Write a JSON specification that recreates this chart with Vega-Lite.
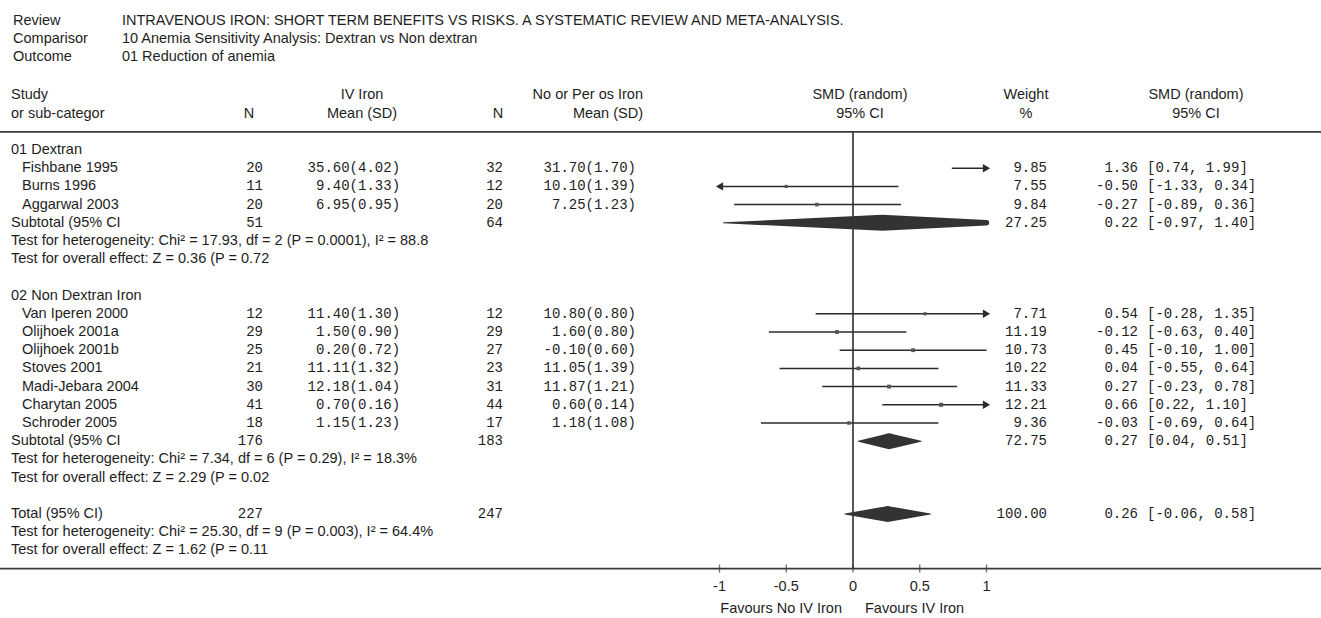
{
  "$schema": "https://vega.github.io/schema/vega-lite/v6.json",
  "width": 1321,
  "height": 618,
  "autosize": {"type": "none"},
  "padding": 0,
  "background": "#ffffff",
  "config": {
    "view": {"stroke": null},
    "locale": {"number": {"decimal": ".", "thousands": ",", "grouping": [3], "currency": ["$", ""], "minus": "-"}},
    "text": {"font": "Liberation Sans", "fontSize": 14.5, "color": "#1e1e1e", "baseline": "middle"}
  },
  "resolve": {"scale": {"size": "independent"}},
  "datasets": {
    "meta": [
      {"row": "t1", "label": "Review", "value": "INTRAVENOUS IRON: SHORT TERM BENEFITS VS RISKS. A SYSTEMATIC REVIEW AND META-ANALYSIS."},
      {"row": "t2", "label": "Comparisor", "value": "10 Anemia Sensitivity Analysis: Dextran vs Non dextran"},
      {"row": "t3", "label": "Outcome", "value": "01 Reduction of anemia"}
    ],
    "heads": [
      {"row": "h1", "study": "Study", "iv": "IV Iron", "ctl": "No or Per os Iron", "plot": "SMD (random)", "w": "Weight", "ci": "SMD (random)"},
      {"row": "h2", "study": "or sub-categor", "n1": "N", "iv": "Mean (SD)", "n2": "N", "ctl": "Mean (SD)", "plot": "95% CI", "w": "%", "ci": "95% CI"}
    ],
    "rows": [
      {"row": "01 Dextran", "kind": "group", "label": "01 Dextran"},
      {"row": "Fishbane 1995", "kind": "study", "label": "Fishbane 1995", "n1": 20, "m1": 35.60, "sd1": 4.02, "n2": 32, "m2": 31.70, "sd2": 1.70, "w": 9.85, "smd": 1.36, "lo": 0.74, "hi": 1.99},
      {"row": "Burns 1996", "kind": "study", "label": "Burns 1996", "n1": 11, "m1": 9.40, "sd1": 1.33, "n2": 12, "m2": 10.10, "sd2": 1.39, "w": 7.55, "smd": -0.50, "lo": -1.33, "hi": 0.34},
      {"row": "Aggarwal 2003", "kind": "study", "label": "Aggarwal 2003", "n1": 20, "m1": 6.95, "sd1": 0.95, "n2": 20, "m2": 7.25, "sd2": 1.23, "w": 9.84, "smd": -0.27, "lo": -0.89, "hi": 0.36},
      {"row": "sub1", "kind": "pooled", "label": "Subtotal (95% CI", "n1": 51, "n2": 64, "w": 27.25, "smd": 0.22, "lo": -0.97, "hi": 1.40},
      {"row": "het1", "kind": "note", "label": "Test for heterogeneity: Chi² = 17.93, df = 2 (P = 0.0001), I² = 88.8"},
      {"row": "eff1", "kind": "note", "label": "Test for overall effect: Z = 0.36 (P = 0.72"},
      {"row": "02 Non Dextran Iron", "kind": "group", "label": "02 Non Dextran Iron"},
      {"row": "Van Iperen 2000", "kind": "study", "label": "Van Iperen 2000", "n1": 12, "m1": 11.40, "sd1": 1.30, "n2": 12, "m2": 10.80, "sd2": 0.80, "w": 7.71, "smd": 0.54, "lo": -0.28, "hi": 1.35},
      {"row": "Olijhoek 2001a", "kind": "study", "label": "Olijhoek 2001a", "n1": 29, "m1": 1.50, "sd1": 0.90, "n2": 29, "m2": 1.60, "sd2": 0.80, "w": 11.19, "smd": -0.12, "lo": -0.63, "hi": 0.40},
      {"row": "Olijhoek 2001b", "kind": "study", "label": "Olijhoek 2001b", "n1": 25, "m1": 0.20, "sd1": 0.72, "n2": 27, "m2": -0.10, "sd2": 0.60, "w": 10.73, "smd": 0.45, "lo": -0.10, "hi": 1.00},
      {"row": "Stoves 2001", "kind": "study", "label": "Stoves 2001", "n1": 21, "m1": 11.11, "sd1": 1.32, "n2": 23, "m2": 11.05, "sd2": 1.39, "w": 10.22, "smd": 0.04, "lo": -0.55, "hi": 0.64},
      {"row": "Madi-Jebara 2004", "kind": "study", "label": "Madi-Jebara 2004", "n1": 30, "m1": 12.18, "sd1": 1.04, "n2": 31, "m2": 11.87, "sd2": 1.21, "w": 11.33, "smd": 0.27, "lo": -0.23, "hi": 0.78},
      {"row": "Charytan 2005", "kind": "study", "label": "Charytan 2005", "n1": 41, "m1": 0.70, "sd1": 0.16, "n2": 44, "m2": 0.60, "sd2": 0.14, "w": 12.21, "smd": 0.66, "lo": 0.22, "hi": 1.10},
      {"row": "Schroder 2005", "kind": "study", "label": "Schroder 2005", "n1": 18, "m1": 1.15, "sd1": 1.23, "n2": 17, "m2": 1.18, "sd2": 1.08, "w": 9.36, "smd": -0.03, "lo": -0.69, "hi": 0.64},
      {"row": "sub2", "kind": "pooled", "label": "Subtotal (95% CI", "n1": 176, "n2": 183, "w": 72.75, "smd": 0.27, "lo": 0.04, "hi": 0.51},
      {"row": "het2", "kind": "note", "label": "Test for heterogeneity: Chi² = 7.34, df = 6 (P = 0.29), I² = 18.3%"},
      {"row": "eff2", "kind": "note", "label": "Test for overall effect: Z = 2.29 (P = 0.02"},
      {"row": "total", "kind": "pooled", "label": "Total (95% CI)", "n1": 227, "n2": 247, "w": 100.00, "smd": 0.26, "lo": -0.06, "hi": 0.58},
      {"row": "het3", "kind": "note", "label": "Test for heterogeneity: Chi² = 25.30, df = 9 (P = 0.003), I² = 64.4%"},
      {"row": "eff3", "kind": "note", "label": "Test for overall effect: Z = 1.62 (P = 0.11"}
    ],
    "scaleTicks": [
      {"t": -1}, {"t": -0.5}, {"t": 0}, {"t": 0.5}, {"t": 1}
    ],
    "captions": [
      {"row": "fav", "left": "Favours No IV Iron", "right": "Favours IV Iron"}
    ]
  },
  "encoding": {
    "y": {
      "field": "row",
      "type": "nominal",
      "axis": null,
      "scale": {
        "type": "point",
        "padding": 0,
        "range": [22.6, 605],
        "domain": ["t1", "t2", "t3", "gapA", "h1", "h2", "hline",
          "01 Dextran", "Fishbane 1995", "Burns 1996", "Aggarwal 2003", "sub1", "het1", "eff1", "gapB",
          "02 Non Dextran Iron", "Van Iperen 2000", "Olijhoek 2001a", "Olijhoek 2001b", "Stoves 2001", "Madi-Jebara 2004", "Charytan 2005", "Schroder 2005", "sub2", "het2", "eff2", "gapC",
          "total", "het3", "eff3", "axis", "ticks", "fav"]
      }
    }
  },
  "layer": [
    {
      "data": {"values": [{"row": "hline"}, {"row": "axis"}]},
      "mark": {"type": "rule", "color": "#3a3a3a", "strokeWidth": 1.8},
      "encoding": {"y": {"field": "row", "type": "nominal"}}
    },
    {
      "data": {"name": "rows"},
      "transform": [
        {"filter": "datum.kind == 'study'"},
        {"calculate": "max(datum.lo, -1)", "as": "lo_c"},
        {"calculate": "min(datum.hi, 1)", "as": "hi_c"}
      ],
      "mark": {"type": "rule", "color": "#2b2b2b", "strokeWidth": 1.5},
      "encoding": {
        "x": {"field": "lo_c", "type": "quantitative", "scale": {"domain": [-6.3895, 3.5056], "nice": false, "zero": false}, "axis": null},
        "x2": {"field": "hi_c"}
      }
    },
    {
      "data": {"values": [{}]},
      "mark": {"type": "rule", "color": "#2e2e2e", "strokeWidth": 1.6},
      "encoding": {
        "x": {"datum": 0, "type": "quantitative", "axis": null},
        "y": {"datum": "hline"},
        "y2": {"datum": "axis"}
      }
    },
    {
      "data": {"name": "scaleTicks"},
      "mark": {"type": "tick", "orient": "vertical", "color": "#3a3a3a", "size": 8, "thickness": 1.4},
      "encoding": {
        "x": {"field": "t", "type": "quantitative", "axis": null},
        "y": {"datum": "axis"}
      }
    },
    {
      "data": {"name": "scaleTicks"},
      "mark": {"type": "text", "align": "center"},
      "encoding": {
        "x": {"field": "t", "type": "quantitative", "axis": null},
        "y": {"datum": "ticks"},
        "text": {"field": "t", "type": "quantitative", "format": "~g"}
      }
    },
    {
      "data": {"name": "rows"},
      "transform": [{"filter": "datum.kind == 'study' && datum.hi > 1"}],
      "mark": {"type": "point", "shape": "triangle-right", "filled": true, "color": "#2b2b2b", "size": 70, "opacity": 1},
      "encoding": {"x": {"datum": 1, "type": "quantitative", "axis": null}}
    },
    {
      "data": {"name": "rows"},
      "transform": [{"filter": "datum.kind == 'study' && datum.lo < -1"}],
      "mark": {"type": "point", "shape": "triangle-left", "filled": true, "color": "#2b2b2b", "size": 70, "opacity": 1},
      "encoding": {"x": {"datum": -1, "type": "quantitative", "axis": null}}
    },
    {
      "data": {"name": "rows"},
      "transform": [{"filter": "datum.kind == 'study' && datum.smd >= -1 && datum.smd <= 1"}],
      "mark": {"type": "point", "shape": "square", "filled": true, "color": "#555555", "opacity": 1},
      "encoding": {
        "x": {"field": "smd", "type": "quantitative", "axis": null},
        "size": {"field": "w", "type": "quantitative", "scale": {"domain": [0, 15], "range": [0, 20]}, "legend": null}
      }
    },
    {
      "data": {"name": "rows"},
      "transform": [
        {"filter": "datum.kind == 'pooled'"},
        {"fold": ["lo", "smd", "hi"], "as": ["pt", "v"]},
        {"calculate": "datum.pt == 'hi' ? min(datum.v, 1) : datum.pt == 'lo' ? max(datum.v, -1) : datum.v", "as": "xv"},
        {"calculate": "datum.pt == 'smd' ? 1 : datum.pt == 'hi' ? (datum.hi > 1 ? (datum.hi - 1) / (datum.hi - datum.smd) : 0) : (datum.lo < -1 ? (-1 - datum.lo) / (datum.smd - datum.lo) : 0)", "as": "half"}
      ],
      "mark": {"type": "trail", "color": "#333333"},
      "encoding": {
        "x": {"field": "xv", "type": "quantitative", "axis": null},
        "detail": {"field": "row"},
        "order": {"field": "xv", "type": "quantitative"},
        "size": {"field": "half", "type": "quantitative", "scale": {"domain": [0, 1], "range": [0, 16]}, "legend": null}
      }
    },
    {
      "data": {"name": "meta"},
      "mark": {"type": "text", "align": "left", "dy": -2},
      "encoding": {"x": {"datum": -6.292, "type": "quantitative", "axis": null}, "text": {"field": "label"}}
    },
    {
      "data": {"name": "meta"},
      "mark": {"type": "text", "align": "left", "dy": -2},
      "encoding": {"x": {"datum": -5.476, "type": "quantitative", "axis": null}, "text": {"field": "value"}}
    },
    {
      "data": {"name": "heads"},
      "mark": {"type": "text", "align": "left"},
      "encoding": {"x": {"datum": -6.307, "type": "quantitative", "axis": null}, "text": {"field": "study"}}
    },
    {
      "data": {"name": "heads"},
      "transform": [{"filter": "isValid(datum.n1)"}],
      "mark": {"type": "text", "align": "center"},
      "encoding": {"x": {"datum": -4.524, "type": "quantitative", "axis": null}, "text": {"field": "n1"}}
    },
    {
      "data": {"name": "heads"},
      "mark": {"type": "text", "align": "center"},
      "encoding": {"x": {"datum": -3.678, "type": "quantitative", "axis": null}, "text": {"field": "iv"}}
    },
    {
      "data": {"name": "heads"},
      "transform": [{"filter": "isValid(datum.n2)"}],
      "mark": {"type": "text", "align": "center"},
      "encoding": {"x": {"datum": -2.659, "type": "quantitative", "axis": null}, "text": {"field": "n2"}}
    },
    {
      "data": {"name": "heads"},
      "mark": {"type": "text", "align": "right"},
      "encoding": {"x": {"datum": -1.573, "type": "quantitative", "axis": null}, "text": {"field": "ctl"}}
    },
    {
      "data": {"name": "heads"},
      "mark": {"type": "text", "align": "center"},
      "encoding": {"x": {"datum": 0.052, "type": "quantitative", "axis": null}, "text": {"field": "plot"}}
    },
    {
      "data": {"name": "heads"},
      "mark": {"type": "text", "align": "center"},
      "encoding": {"x": {"datum": 1.296, "type": "quantitative", "axis": null}, "text": {"field": "w"}}
    },
    {
      "data": {"name": "heads"},
      "mark": {"type": "text", "align": "center"},
      "encoding": {"x": {"datum": 2.569, "type": "quantitative", "axis": null}, "text": {"field": "ci"}}
    },
    {
      "data": {"name": "rows"},
      "transform": [{"filter": "datum.kind != 'study'"}],
      "mark": {"type": "text", "align": "left"},
      "encoding": {"x": {"datum": -6.307, "type": "quantitative", "axis": null}, "text": {"field": "label"}}
    },
    {
      "data": {"name": "rows"},
      "transform": [{"filter": "datum.kind == 'study'"}],
      "mark": {"type": "text", "align": "left"},
      "encoding": {"x": {"datum": -6.225, "type": "quantitative", "axis": null}, "text": {"field": "label"}}
    },
    {
      "data": {"name": "rows"},
      "transform": [{"filter": "isValid(datum.n1)"}],
      "mark": {"type": "text", "align": "right", "font": "Liberation Mono", "fontSize": 14},
      "encoding": {"x": {"datum": -4.4195, "type": "quantitative", "axis": null}, "text": {"field": "n1", "type": "quantitative", "format": "d"}}
    },
    {
      "data": {"name": "rows"},
      "transform": [
        {"filter": "isValid(datum.m1)"},
        {"calculate": "format(datum.m1, '.2f') + '(' + format(datum.sd1, '.2f') + ')'", "as": "t_m1"}
      ],
      "mark": {"type": "text", "align": "right", "font": "Liberation Mono", "fontSize": 14},
      "encoding": {"x": {"datum": -3.393, "type": "quantitative", "axis": null}, "text": {"field": "t_m1"}}
    },
    {
      "data": {"name": "rows"},
      "transform": [{"filter": "isValid(datum.n2)"}],
      "mark": {"type": "text", "align": "right", "font": "Liberation Mono", "fontSize": 14},
      "encoding": {"x": {"datum": -2.622, "type": "quantitative", "axis": null}, "text": {"field": "n2", "type": "quantitative", "format": "d"}}
    },
    {
      "data": {"name": "rows"},
      "transform": [
        {"filter": "isValid(datum.m2)"},
        {"calculate": "format(datum.m2, '.2f') + '(' + format(datum.sd2, '.2f') + ')'", "as": "t_m2"}
      ],
      "mark": {"type": "text", "align": "right", "font": "Liberation Mono", "fontSize": 14},
      "encoding": {"x": {"datum": -1.6255, "type": "quantitative", "axis": null}, "text": {"field": "t_m2"}}
    },
    {
      "data": {"name": "rows"},
      "transform": [
        {"filter": "isValid(datum.w)"},
        {"calculate": "format(datum.w, '.2f')", "as": "t_w"}
      ],
      "mark": {"type": "text", "align": "right", "font": "Liberation Mono", "fontSize": 14},
      "encoding": {"x": {"datum": 1.4532, "type": "quantitative", "axis": null}, "text": {"field": "t_w"}}
    },
    {
      "data": {"name": "rows"},
      "transform": [
        {"filter": "isValid(datum.smd)"},
        {"calculate": "format(datum.smd, '.2f')", "as": "t_est"}
      ],
      "mark": {"type": "text", "align": "right", "font": "Liberation Mono", "fontSize": 14},
      "encoding": {"x": {"datum": 2.1348, "type": "quantitative", "axis": null}, "text": {"field": "t_est"}}
    },
    {
      "data": {"name": "rows"},
      "transform": [
        {"filter": "isValid(datum.smd)"},
        {"calculate": "'[' + format(datum.lo, '.2f') + ', ' + format(datum.hi, '.2f') + ']'", "as": "t_ci"}
      ],
      "mark": {"type": "text", "align": "left", "font": "Liberation Mono", "fontSize": 14},
      "encoding": {"x": {"datum": 2.2022, "type": "quantitative", "axis": null}, "text": {"field": "t_ci"}}
    },
    {
      "data": {"name": "captions"},
      "mark": {"type": "text", "align": "right", "dy": 4},
      "encoding": {"x": {"datum": -0.0824, "type": "quantitative", "axis": null}, "text": {"field": "left"}}
    },
    {
      "data": {"name": "captions"},
      "mark": {"type": "text", "align": "left", "dy": 4},
      "encoding": {"x": {"datum": 0.0899, "type": "quantitative", "axis": null}, "text": {"field": "right"}}
    }
  ]
}
